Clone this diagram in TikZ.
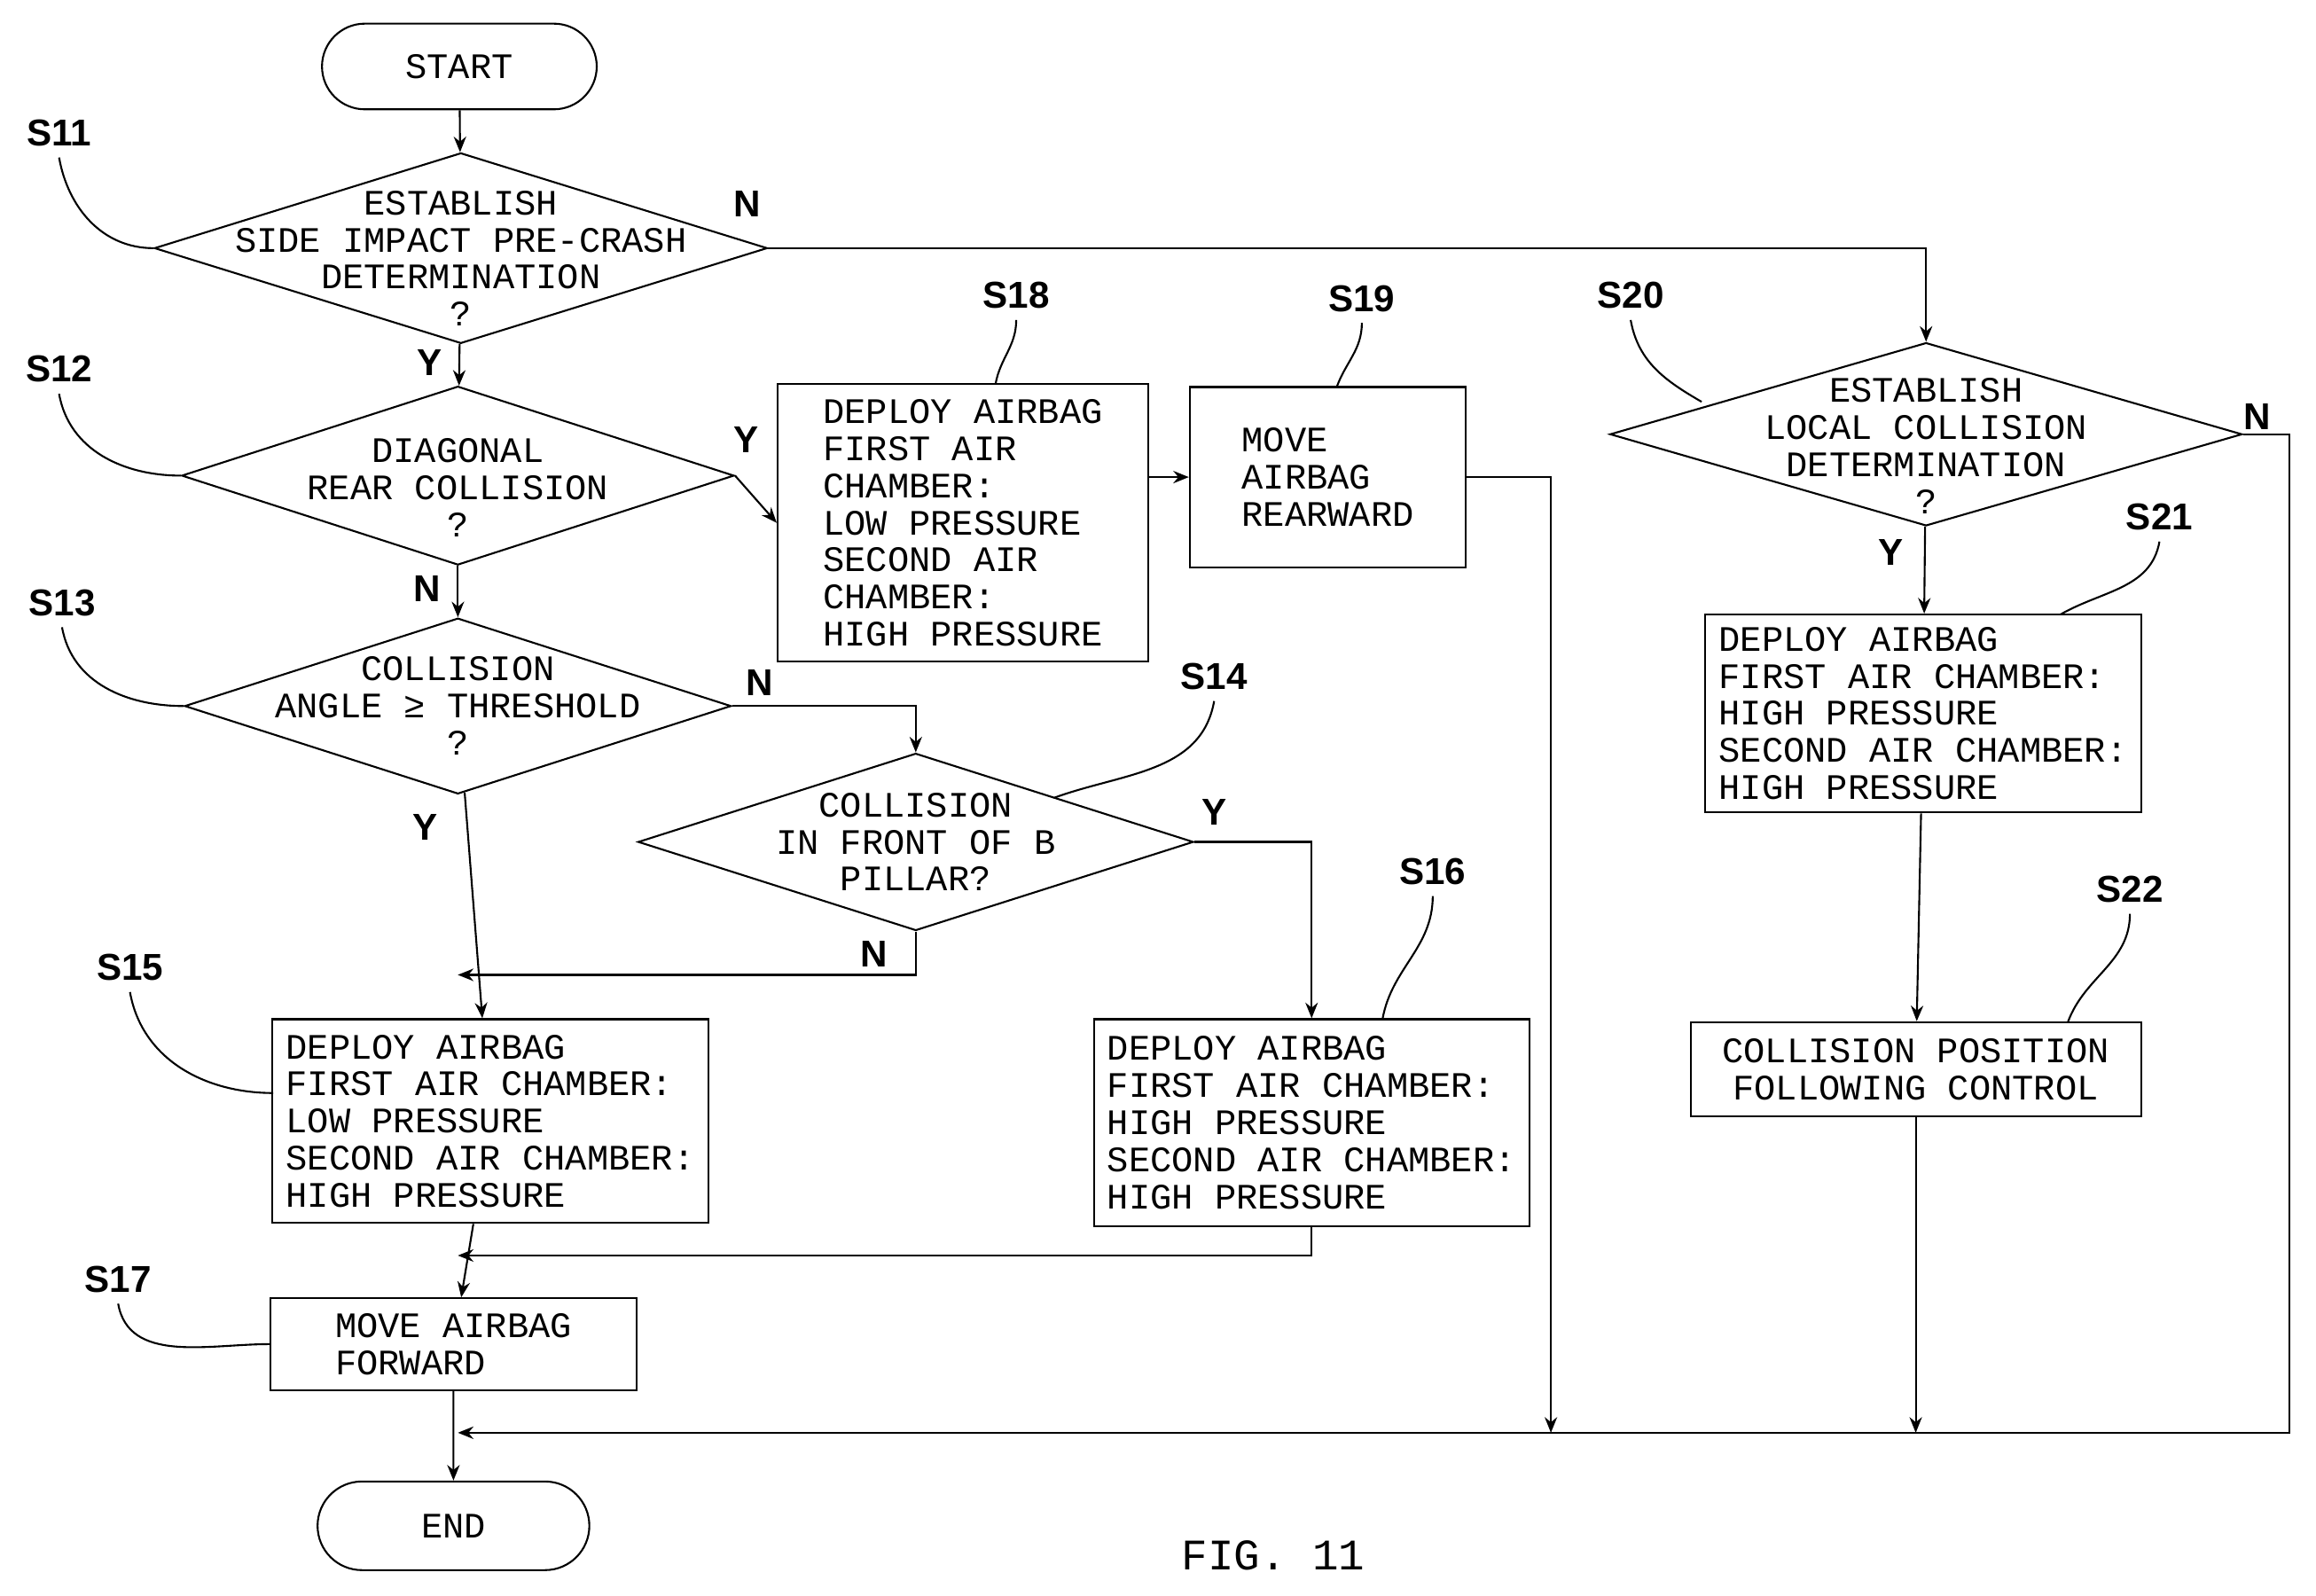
\documentclass[tikz,border=0pt]{standalone}
\usepackage{fontspec}
\newfontfamily\flowfont{Liberation Mono}
\newfontfamily\stepfont{Liberation Sans}
\usetikzlibrary{shapes.geometric,shapes.misc,arrows.meta}
\def\u{0.1666mm}
\tikzset{
  flow/.style={font=\flowfont\fontsize{11.5}{11.9}\selectfont},
  term/.style={rounded rectangle,draw,flow,inner sep=0pt},
  dia/.style={diamond,draw,inner sep=0pt},
  box/.style={rectangle,draw,flow,align=left,inner sep=0pt},
  yn/.style={font=\stepfont\bfseries\fontsize{12}{12}\selectfont},
  steplbl/.style={font=\stepfont\bfseries\fontsize{12}{12}\selectfont},
  arr/.style={-{Stealth[length=5pt,width=4pt]}},
}
\begin{document}
\begin{tikzpicture}[x=0.1666mm,y=-0.1666mm,line width=0.6pt]
    \useasboundingbox (0,0) rectangle (1568,1080);

    \node[term,minimum width={186*\u},minimum height={58*\u}] (start) at (311,45) {START};
    \node[dia,minimum width={415*\u},minimum height={129*\u}] (s11) at (312,168) {};
    \node[flow,align=center] at (312,175) {ESTABLISH\\SIDE IMPACT PRE-CRASH\\DETERMINATION\\?};
    \node[dia,minimum width={374*\u},minimum height={121*\u}] (s12) at (310,322) {};
    \node[flow,align=center] at (310,330) {DIAGONAL\\REAR COLLISION\\?};
    \node[dia,minimum width={370*\u},minimum height={119*\u}] (s13) at (310,478) {};
    \node[flow,align=center] at (310,478) {COLLISION\\ANGLE ≥ THRESHOLD\\?};
    \node[dia,minimum width={376*\u},minimum height={120*\u}] (s14) at (620,570) {};
    \node[flow,align=center] at (620,570) {COLLISION\\IN FRONT OF B\\PILLAR?};
    \node[box,minimum width={251*\u},minimum height={188*\u}] (s18) at (652,354) {DEPLOY AIRBAG\\FIRST AIR\\CHAMBER:\\LOW PRESSURE\\SECOND AIR\\CHAMBER:\\HIGH PRESSURE};
    \node[box,minimum width={187*\u},minimum height={122*\u}] (s19) at (899,323) {MOVE\\AIRBAG\\REARWARD};
    \node[dia,minimum width={428*\u},minimum height={124*\u}] (s20) at (1304,294) {};
    \node[flow,align=center] at (1304,302) {ESTABLISH\\LOCAL COLLISION\\DETERMINATION\\?};
    \node[box,minimum width={295*\u},minimum height={134*\u}] (s21) at (1302,483) {DEPLOY AIRBAG\\FIRST AIR CHAMBER:\\HIGH PRESSURE\\SECOND AIR CHAMBER:\\HIGH PRESSURE};
    \node[box,align=center,minimum width={305*\u},minimum height={64*\u}] (s22) at (1297,724) {COLLISION POSITION\\FOLLOWING CONTROL};
    \node[box,minimum width={295*\u},minimum height={138*\u}] (s15) at (332,759) {DEPLOY AIRBAG\\FIRST AIR CHAMBER:\\LOW PRESSURE\\SECOND AIR CHAMBER:\\HIGH PRESSURE};
    \node[box,minimum width={295*\u},minimum height={140*\u}] (s16) at (888,760) {DEPLOY AIRBAG\\FIRST AIR CHAMBER:\\HIGH PRESSURE\\SECOND AIR CHAMBER:\\HIGH PRESSURE};
    \node[box,minimum width={248*\u},minimum height={62*\u}] (s17) at (307,910) {MOVE AIRBAG\\FORWARD};
    \node[term,minimum width={184*\u},minimum height={60*\u}] (end) at (307,1033) {END};
    \node[flow,font=\flowfont\fontsize{14}{14}\selectfont] (fig) at (862,1053) {FIG. 11};

    \coordinate (j1) at (310,660);
    \coordinate (j2) at (310,850);
    \coordinate (j3) at (310,970);
    \draw[arr] (start) -- (s11);
    \draw[arr] (s11) -- node[yn,pos=0.45,left=2pt] {Y} (s12);
    \draw[arr] (s11.east) -| (s20.north);
    \node[yn] at (506,138) {N};
    \draw[arr] (s12.east) -- (s18.west);
    \node[yn] at (505,298) {Y};
    \draw[arr] (s18.east |- s19) -- (s19.west);
    \draw[arr] (s19.east) -| (1050,970);
    \draw[arr] (s12) -- node[yn,pos=0.45,left=2pt] {N} (s13);
    \draw[arr] (s13.east) -| (s14.north);
    \node[yn] at (514,462) {N};
    \draw[arr] (s13) -- (s15);
    \node[yn] at (288,560) {Y};
    \draw[arr] (s14.south) |- (j1);
    \node[yn] at (592,646) {N};
    \draw[arr] (s14.east) -| (s16.north);
    \node[yn] at (822,550) {Y};
    \draw[arr] (s15) -- (s17);
    \draw[arr] (s16.south) |- (j2);
    \draw[arr] (s17) -- (end);
    \draw[arr] (s20.east) -| (1550,970) -- (j3);
    \node[yn] at (1528,282) {N};
    \draw[arr] (s20) -- (s21);
    \node[yn] at (1280,374) {Y};
    \draw[arr] (s21) -- (s22);
    \draw[arr] (s22.south) -- (1297,970);

    % step labels
    \node[steplbl] (l11) at (40,90) {S11};
    \node[steplbl] (l12) at (40,250) {S12};
    \node[steplbl] (l13) at (42,408) {S13};
    \node[steplbl] (l14) at (822,458) {S14};
    \node[steplbl] (l15) at (88,655) {S15};
    \node[steplbl] (l16) at (970,590) {S16};
    \node[steplbl] (l17) at (80,866) {S17};
    \node[steplbl] (l18) at (688,200) {S18};
    \node[steplbl] (l19) at (922,202) {S19};
    \node[steplbl] (l20) at (1104,200) {S20};
    \node[steplbl] (l21) at (1462,350) {S21};
    \node[steplbl] (l22) at (1442,602) {S22};
    \draw (l11.south) to[out=-80,in=180] (s11.west);
    \draw (l12.south) to[out=-80,in=180] (s12.west);
    \draw (l13.south) to[out=-80,in=180] (s13.west);
    \draw (l15.south) to[out=-80,in=180] (185,740);
    \draw (l17.south) to[out=-80,in=180] (s17.west);
    \draw (l14.south) to[out=-100,in=20] (714,540);
    \draw (l16.south) to[out=-90,in=80] (936,690);
    \draw (l18.south) to[out=-90,in=80] (674,260);
    \draw (l19.south) to[out=-90,in=70] (905,262);
    \draw (l20.south) to[out=-80,in=150] (1152,272);
    \draw (l21.south) to[out=-100,in=30] (1395,416);
    \draw (l22.south) to[out=-90,in=70] (1400,692);
\end{tikzpicture}
\end{document}
